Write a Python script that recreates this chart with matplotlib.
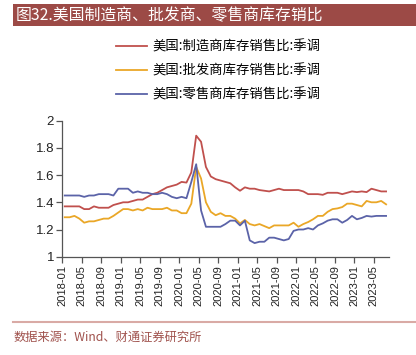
import matplotlib
matplotlib.use("Agg")
import matplotlib.pyplot as plt
from matplotlib.patches import Rectangle
from matplotlib.lines import Line2D
import numpy as np

plt.rcParams['font.family'] = ['Noto Sans CJK SC', 'DejaVu Sans']

# Monthly data 2018-01 .. 2023-07
months = [f"{2018 + k // 12}-{k % 12 + 1:02d}" for k in range(67)]

manufacturing = [1.37, 1.37, 1.37, 1.37, 1.35, 1.35, 1.37, 1.36, 1.36, 1.36,
                 1.38, 1.39, 1.40, 1.40, 1.41, 1.42, 1.42, 1.44, 1.46, 1.47,
                 1.49, 1.51, 1.52, 1.53, 1.55, 1.545, 1.62, 1.89, 1.845, 1.66,
                 1.59, 1.57, 1.56, 1.55, 1.54, 1.51, 1.485, 1.51, 1.50, 1.50,
                 1.49, 1.485, 1.48, 1.49, 1.50, 1.49, 1.49, 1.49, 1.49, 1.48,
                 1.46, 1.46, 1.46, 1.455, 1.47, 1.47, 1.47, 1.46, 1.47, 1.48,
                 1.475, 1.48, 1.475, 1.50, 1.49, 1.48, 1.48]

wholesale = [1.29, 1.29, 1.30, 1.28, 1.25, 1.26, 1.26, 1.27, 1.28, 1.28,
             1.30, 1.325, 1.35, 1.35, 1.34, 1.35, 1.34, 1.36, 1.35, 1.35,
             1.35, 1.36, 1.34, 1.34, 1.32, 1.32, 1.39, 1.66, 1.575, 1.40,
             1.33, 1.305, 1.32, 1.30, 1.30, 1.28, 1.245, 1.27, 1.24, 1.23,
             1.24, 1.225, 1.21, 1.23, 1.23, 1.23, 1.23, 1.25, 1.22, 1.24,
             1.255, 1.275, 1.30, 1.30, 1.33, 1.35, 1.355, 1.365, 1.39, 1.39,
             1.38, 1.37, 1.41, 1.40, 1.40, 1.41, 1.385]

retail = [1.45, 1.45, 1.45, 1.45, 1.44, 1.45, 1.45, 1.46, 1.46, 1.46,
          1.45, 1.50, 1.50, 1.50, 1.47, 1.48, 1.47, 1.47, 1.46, 1.46,
          1.47, 1.46, 1.44, 1.43, 1.44, 1.43, 1.55, 1.68, 1.34, 1.22,
          1.22, 1.22, 1.22, 1.24, 1.265, 1.265, 1.23, 1.265, 1.12, 1.10,
          1.11, 1.11, 1.14, 1.14, 1.13, 1.12, 1.13, 1.19, 1.20, 1.20,
          1.21, 1.20, 1.23, 1.245, 1.265, 1.275, 1.275, 1.25, 1.27, 1.30,
          1.275, 1.285, 1.30, 1.295, 1.30, 1.30, 1.30]

labels = ["美国:制造商库存销售比:季调",
          "美国:批发商库存销售比:季调",
          "美国:零售商库存销售比:季调"]
colors = ["#C0504D", "#EAA727", "#5B63A8"]

W, H = 416, 355
fig = plt.figure(figsize=(W / 100, H / 100), dpi=100)

# Title bar
fig.patches.append(Rectangle((13 / W, 1 - 26 / H), (W - 13) / W, 22 / H,
                             transform=fig.transFigure, facecolor="#9C4A46",
                             edgecolor="none", zorder=0))
fig.text(16 / W, 1 - 15.5 / H, "图32.美国制造商、批发商、零售商库存销比",
         color="white", fontsize=11.4, va="center", ha="left")

ax = fig.add_axes([62.3 / W, 1 - 256.7 / H, (389 - 62.3) / W, (256.7 - 120.7) / H])
x = np.arange(len(months)) + 0.5
for series, c, lab in zip([manufacturing, wholesale, retail], colors, labels):
    ax.plot(x, series, color=c, lw=1.3, label=lab)

ax.set_xlim(0, 67.1)
ax.set_ylim(1, 2)
ax.set_yticks([1, 1.2, 1.4, 1.6, 1.8, 2])
ax.set_yticklabels(["1", "1.2", "1.4", "1.6", "1.8", "2"], fontsize=9.5,
                   family="Liberation Sans", color="#222222")
tick_idx = list(range(0, 67, 4))
ax.set_xticks(tick_idx)
ax.set_xticklabels([months[i] for i in tick_idx], rotation=90, fontsize=8,
                   family="Liberation Sans", color="#222222")
for s in ["top", "right"]:
    ax.spines[s].set_visible(False)
for s in ["left", "bottom"]:
    ax.spines[s].set_color("#555555")
    ax.spines[s].set_linewidth(0.9)
ax.tick_params(axis="both", direction="out", length=4, width=0.9, color="#555555", pad=2)

handles = [Line2D([], [], color=c, lw=1.3) for c in colors]
fig.legend(handles, labels, loc="upper left", bbox_to_anchor=(116 / W, 1 - 40 / H),
           frameon=False, fontsize=9.6, handlelength=2.3, handletextpad=0.45,
           labelspacing=0.72, borderaxespad=0, borderpad=0)

# Bottom rule and source
fig.add_artist(Line2D([13 / W, 1], [1 - 322 / H, 1 - 322 / H], transform=fig.transFigure,
                      color="#D9AAA5", lw=1.5))
fig.text(14 / W, 1 - 337 / H, "数据来源：Wind、财通证券研究所", color="#A0524D",
         fontsize=8.8, va="center", ha="left")

fig.savefig("out.png", dpi=100)
